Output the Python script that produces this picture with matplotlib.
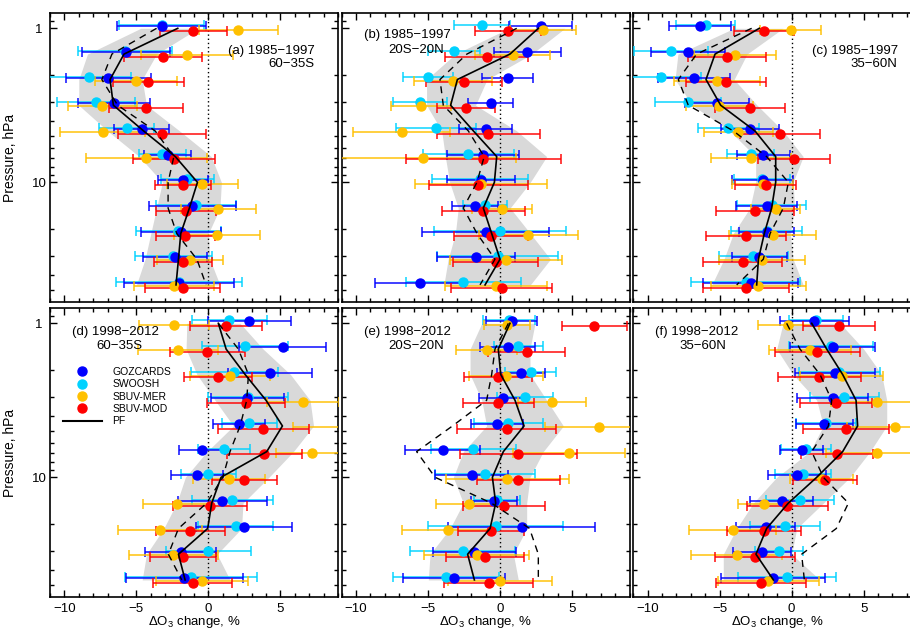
import matplotlib.pyplot as plt
import numpy as np
from matplotlib.ticker import MultipleLocator, FixedLocator, FixedFormatter, NullFormatter
from matplotlib.lines import Line2D

plt.rcParams['font.family'] = ['Liberation Sans', 'DejaVu Sans']
plt.rcParams['mathtext.fontset'] = 'custom'
plt.rcParams['mathtext.rm'] = 'Liberation Sans'
plt.rcParams['mathtext.it'] = 'Liberation Sans:italic'

# pressure levels, hPa
pressure = [1.0, 1.47, 2.15, 3.16, 4.64, 6.81, 10.0, 14.7, 21.5, 31.6, 46.4]

periods = ["1985−1997", "1985−1997", "1985−1997", "1998−2012", "1998−2012", "1998−2012"]
regions = ["60−35S", "20S−20N", "35−60N", "60−35S", "20S−20N", "35−60N"]

# rows: panels a..f, columns: pressure levels (top to bottom)
gozcards = [
    [-3.24, -5.72, -6.94, -6.55, -4.63, -2.82, -1.78, -1.11, -1.90, -2.31, -2.04],
    [2.82, 1.90, 0.53, -0.65, -1.00, -1.20, -1.32, -1.74, -1.00, -1.69, -5.56],
    [-6.37, -7.18, -6.78, -5.20, -2.89, -1.97, -2.01, -1.74, -1.74, -2.25, -2.85],
    [2.85, 5.16, 4.28, 2.70, 2.13, -0.42, -0.81, 0.97, 2.50, -1.92, -1.67],
    [0.81, 0.53, 1.44, 0.19, -0.23, -3.98, -1.97, -0.42, 1.50, -1.78, -3.19],
    [1.57, 2.85, 3.00, 2.85, 2.27, 0.69, 0.39, -0.69, -1.81, -2.08, -1.32],
]
gozcards_err = [
    [3.10, 3.07, 2.95, 2.48, 1.90, 1.63, 1.75, 3.00, 2.75, 2.20, 3.80],
    [2.20, 2.30, 1.77, 1.56, 1.85, 2.50, 2.37, 1.62, 4.40, 2.70, 3.10],
    [2.14, 2.57, 2.47, 2.23, 2.00, 1.82, 2.10, 2.14, 1.90, 1.90, 3.30],
    [2.90, 3.03, 2.90, 2.55, 1.80, 1.60, 1.80, 3.07, 3.33, 2.46, 4.07],
    [1.78, 1.90, 1.68, 1.66, 1.80, 2.60, 2.55, 1.60, 5.10, 2.87, 3.53],
    [2.40, 2.95, 2.80, 2.46, 1.97, 1.50, 2.00, 2.20, 2.04, 2.00, 3.60],
]
swoosh = [
    [-3.24, -5.80, -8.29, -7.80, -5.67, -3.19, -1.46, -0.86, -2.08, -2.43, -2.04],
    [-1.27, -3.20, -5.02, -5.56, -4.47, -2.20, -1.39, -1.04, 0.00, -0.16, -2.55],
    [-5.97, -8.38, -9.07, -7.22, -4.40, -2.85, -2.08, -1.39, -1.74, -2.66, -3.19],
    [1.46, 2.55, 1.80, 2.73, 2.85, 1.11, 0.00, 1.67, 1.90, 0.00, -1.20],
    [0.63, 1.27, 2.13, 1.74, 0.58, -1.85, -1.04, -0.23, -0.30, -2.59, -3.75],
    [1.69, 2.73, 3.31, 3.66, 2.38, 1.00, 0.76, 0.58, -0.46, -0.88, -0.35],
]
swoosh_err = [
    [2.95, 3.27, 2.90, 2.70, 1.90, 1.60, 1.85, 2.80, 2.95, 2.70, 4.40],
    [1.95, 1.80, 1.75, 1.87, 2.77, 3.17, 3.36, 1.53, 4.60, 4.20, 4.00],
    [2.06, 2.60, 2.80, 2.30, 2.10, 1.62, 1.94, 2.40, 2.45, 2.40, 3.80],
    [2.60, 3.00, 3.00, 2.78, 1.90, 1.80, 1.90, 2.80, 2.60, 2.95, 4.60],
    [1.80, 1.70, 1.75, 1.97, 2.40, 2.96, 3.47, 1.60, 4.70, 3.65, 3.70],
    [1.90, 2.90, 2.80, 2.40, 2.10, 1.71, 1.95, 2.36, 2.43, 1.67, 3.40],
]
sbuv_mer = [
    [2.08, -1.46, -5.02, -7.36, -7.34, -4.33, -0.42, 0.69, 0.58, -1.27, -2.38],
    [3.00, 0.88, -3.29, -5.50, -6.83, -5.37, -1.32, 0.14, 1.97, 0.42, -0.28],
    [-0.07, -3.94, -5.20, -5.02, -3.70, -2.82, -2.01, -1.11, -1.32, -2.08, -2.31],
    [-2.38, -2.08, 1.50, 6.55, 9.50, 7.18, 1.46, -2.15, -3.36, -2.43, -0.46],
    [0.46, -0.93, 0.42, 3.59, 6.90, 4.81, 0.51, -2.13, -3.59, -1.62, 0.00],
    [-0.23, 1.27, 3.47, 5.90, 7.18, 5.90, 2.08, -1.90, -4.10, -3.82, -1.62],
]
sbuv_mer_err = [
    [2.75, 3.20, 2.85, 2.37, 2.95, 4.20, 2.45, 2.60, 3.00, 2.30, 2.80],
    [2.30, 2.60, 2.70, 2.10, 3.36, 6.50, 4.57, 2.10, 3.44, 3.90, 3.55],
    [2.10, 2.87, 3.00, 2.30, 2.37, 2.80, 2.10, 1.70, 3.00, 3.00, 3.27],
    [2.45, 2.78, 2.75, 2.50, 3.60, 2.50, 2.50, 2.40, 2.90, 3.10, 3.20],
    [1.60, 2.10, 2.55, 2.36, 3.80, 3.90, 4.28, 2.30, 3.20, 3.65, 3.59],
    [2.10, 2.84, 2.90, 3.20, 3.36, 3.50, 2.20, 1.80, 3.00, 3.15, 3.50],
]
sbuv_mod = [
    [-1.04, -3.13, -4.17, -4.33, -3.24, -2.38, -1.78, -1.57, -1.62, -1.78, -1.78],
    [0.58, -0.93, -2.48, -2.38, -0.81, -1.16, -1.50, -1.16, -0.63, -0.30, 0.12],
    [-1.92, -4.47, -4.58, -2.89, -0.81, 0.16, -1.81, -2.55, -3.17, -3.40, -3.17],
    [1.23, -0.07, 0.65, 2.60, 3.82, 3.87, 2.50, 0.12, -1.27, -1.74, -1.09],
    [6.53, 1.85, -0.16, -0.12, 0.46, 1.27, 1.27, 0.28, -0.63, -1.04, -0.79],
    [3.31, 1.78, 1.92, 3.08, 3.77, 3.17, 2.31, -0.30, -1.90, -2.55, -2.13],
]
sbuv_mod_err = [
    [2.30, 2.70, 2.45, 2.55, 3.05, 2.85, 1.95, 2.10, 2.05, 2.00, 2.60],
    [2.30, 2.90, 2.65, 2.00, 3.60, 5.40, 3.42, 2.87, 2.55, 2.95, 3.50],
    [2.08, 2.70, 2.78, 2.45, 2.75, 2.49, 2.10, 2.72, 2.80, 2.75, 3.00],
    [2.50, 2.63, 2.37, 2.70, 3.16, 2.60, 2.25, 2.57, 2.40, 2.30, 2.75],
    [2.26, 2.66, 2.37, 2.45, 3.43, 4.07, 2.87, 2.86, 2.30, 2.72, 3.07],
    [2.50, 2.93, 2.86, 2.50, 3.00, 2.50, 2.20, 2.80, 2.58, 2.75, 3.10],
]
pf = [
    [-2.13, -5.86, -6.83, -6.60, -4.50, -2.30, -0.76, -1.32, -1.92, -2.08, -2.25],
    [2.66, 0.69, -2.96, -3.43, -1.85, -0.23, -0.39, -1.16, -0.58, 0.00, -1.04],
    [-2.25, -5.32, -5.95, -4.93, -2.55, -1.11, -1.11, -1.39, -1.90, -2.31, -2.43],
    [0.69, 1.23, 2.55, 4.00, 5.14, 4.05, 0.88, 0.23, -0.05, -2.08, -1.62],
    [0.69, -0.12, 0.05, 1.04, 1.67, 0.23, -0.53, -0.30, -0.69, -2.25, -1.78],
    [1.39, 2.43, 3.54, 4.47, 4.58, 3.54, 1.74, -0.23, -1.74, -2.48, -1.27],
]
pf_dashed = [
    [-3.60, -6.70, -7.40, -6.30, -3.70, -2.40, -2.80, -2.80, -2.20, -0.80, -0.16],
    [1.16, -2.30, -4.17, -3.94, -2.20, -1.10, -1.60, -2.55, -1.60, -0.35, -1.39],
    [-2.78, -6.60, -7.87, -7.18, -4.05, -1.74, -0.23, -0.58, -1.50, -1.97, -3.82],
    [0.69, 2.08, 2.78, 2.66, 2.20, 1.50, 1.00, -0.12, -2.08, -2.78, -1.85],
    [0.58, -0.35, -0.58, -0.93, -3.30, -5.79, -4.51, -0.60, 2.05, 2.66, 2.66],
    [-0.35, 0.58, 1.97, 2.78, 2.55, 1.39, 2.20, 3.94, 3.10, 0.69, 0.88],
]
band_low = [
    [-4.70, -8.40, -9.00, -9.00, -7.00, -4.80, -3.20, -3.60, -4.00, -4.40, -5.00],
    [0.60, -3.10, -5.10, -5.10, -4.05, -3.80, -3.50, -2.90, -3.10, -3.60, -3.90],
    [-4.00, -7.90, -8.10, -6.90, -4.30, -2.50, -2.50, -2.90, -4.05, -4.70, -5.55],
    [-1.50, -1.55, -0.80, 0.46, 1.74, -0.10, -1.60, -2.20, -3.10, -4.30, -4.60],
    [-1.27, -2.08, -2.08, -1.27, -0.93, -2.55, -3.24, -2.55, -3.47, -4.86, -4.98],
    [-0.60, -1.04, 0.10, 1.74, 2.20, 1.27, -1.04, -2.66, -3.82, -4.75, -4.75],
]
band_high = [
    [-0.70, -3.60, -4.60, -4.30, -2.00, 0.20, 0.90, 0.80, 0.00, 0.10, 0.80],
    [4.50, 2.20, -0.90, -1.70, 1.16, 3.24, 2.10, 0.70, 2.10, 3.50, 2.10],
    [-0.60, -3.10, -4.00, -2.40, -0.60, 0.80, 0.10, 0.20, -0.10, 0.10, 0.80],
    [2.20, 3.80, 5.70, 7.06, 7.30, 5.90, 4.20, 2.40, 2.30, 0.60, 1.50],
    [2.43, 2.08, 2.08, 3.24, 4.40, 3.00, 2.08, 1.85, 1.85, 0.93, 1.27],
    [3.36, 5.00, 6.25, 6.60, 6.60, 5.44, 4.05, 2.20, 0.35, 0.00, 1.97],
]

# (values, errors, colour, label, small vertical offset in decades)
series = [
    (swoosh, swoosh_err, '#00d2ff', 'SWOOSH', -0.019),
    (gozcards, gozcards_err, '#0000ff', 'GOZCARDS', -0.012),
    (sbuv_mer, sbuv_mer_err, '#ffc000', 'SBUV-MER', 0.008),
    (sbuv_mod, sbuv_mod_err, '#ff0000', 'SBUV-MOD', 0.018),
]

fig = plt.figure(figsize=(9.1, 6.32), dpi=100)
lefts = [0.05495, 0.3754, 0.6959]
bottoms = [0.522, 0.0552]
w, h = 0.3165, 0.4568

p = np.array(pressure)
axes = []
for i in range(6):
    row, col = divmod(i, 3)
    ax = fig.add_axes([lefts[col], bottoms[row], w, h])
    axes.append(ax)

    ax.fill_betweenx(p, band_low[i], band_high[i], color='#d9d9d9', lw=0, zorder=1)
    ax.axvline(0, color='k', ls=(0, (1, 2)), lw=1, zorder=2)

    for vals, errs, c, lab, off in series:
        yy = p * 10 ** off
        ln, caps, bars = ax.errorbar(vals[i], yy, xerr=errs[i], fmt='o', ms=6.5,
                                     color=c, ecolor=c, elinewidth=1.4,
                                     capsize=3.5, capthick=1.4, zorder=3)
        for b in bars:
            b.set_alpha(0.75)
        for cp in caps:
            cp.set_alpha(0.75)

    ax.plot(pf[i], p, color='k', lw=1.2, zorder=5)
    ax.plot(pf_dashed[i], p, color='k', lw=1.0, dashes=(5, 4), zorder=5)

    ax.set_yscale('log')
    ax.set_ylim(60, 0.8)
    ax.set_xlim(-11, 9)
    ax.yaxis.set_major_locator(FixedLocator([1, 10]))
    ax.yaxis.set_minor_locator(FixedLocator([0.9, 2, 3, 4, 5, 6, 7, 8, 9, 20, 30, 40, 50]))
    ax.yaxis.set_minor_formatter(NullFormatter())
    ax.xaxis.set_major_locator(MultipleLocator(5))
    ax.xaxis.set_minor_locator(MultipleLocator(1))
    ax.tick_params(which='both', direction='in', top=True, right=True, labelsize=9.5)
    ax.tick_params(which='major', length=5, width=1)
    ax.tick_params(which='minor', length=3, width=1)
    ax.tick_params(axis='x', pad=4.5)
    for s in ax.spines.values():
        s.set_linewidth(1.2)

    if col == 0:
        ax.yaxis.set_major_formatter(FixedFormatter(['1', '10']))
        ax.tick_params(axis='y', pad=8)
        for t in ax.get_yticklabels():
            t.set_ha('center')
        ax.set_ylabel('Pressure, hPa', fontsize=10)
        ax.yaxis.set_label_coords(-0.115, 0.5)
    else:
        ax.yaxis.set_major_formatter(NullFormatter())
    if row == 1:
        ax.set_xlabel('ΔO$_3$ change, %', fontsize=9.5)
        ax.xaxis.set_label_coords(0.5, -0.06)
    else:
        ax.xaxis.set_major_formatter(NullFormatter())

    letter = '(' + 'abcdef'[i] + ') '
    if i in (0, 2):
        ax.text(0.918, 0.869, letter + periods[i], transform=ax.transAxes,
                ha='right', va='center', fontsize=9.5)
        ax.text(0.918, 0.825, regions[i], transform=ax.transAxes,
                ha='right', va='center', fontsize=9.5)
    else:
        y1, y2 = (0.925, 0.873) if row == 0 else (0.92, 0.87)
        ax.text(0.077, y1, letter + periods[i], transform=ax.transAxes,
                ha='left', va='center', fontsize=9.5)
        ax.text(0.162, y2, regions[i], transform=ax.transAxes,
                ha='left', va='center', fontsize=9.5)

handles = [Line2D([], [], marker='o', ls='none', color=c, ms=6.5)
           for c in ['#0000ff', '#00d2ff', '#ffc000', '#ff0000']]
handles.append(Line2D([], [], color='k', lw=1.5))
axes[3].legend(handles, ['GOZCARDS', 'SWOOSH', 'SBUV-MER', 'SBUV-MOD', 'PF'],
               loc='upper left', bbox_to_anchor=(0.045, 0.797), frameon=False,
               fontsize=7.5, handlelength=3.75, handletextpad=1.0,
               labelspacing=0.22, borderpad=0, borderaxespad=0)

fig.savefig('out.png', dpi=100)
